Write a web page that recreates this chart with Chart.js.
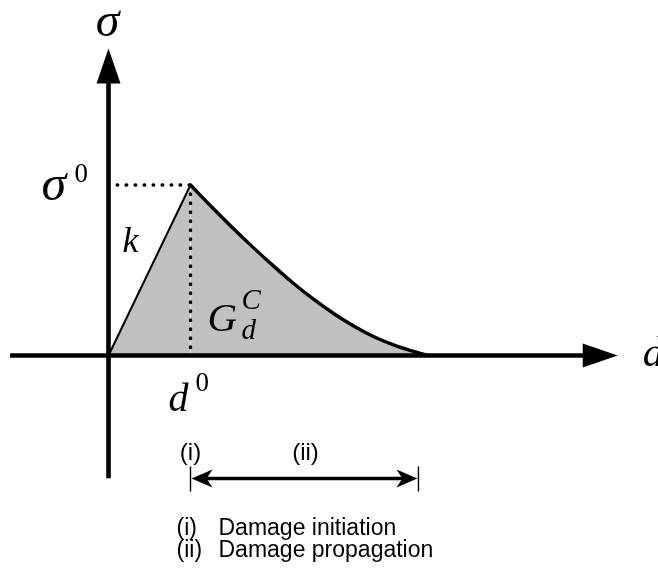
<!DOCTYPE html>
<html>
<head>
<meta charset="utf-8">
<style>
  html, body { margin: 0; padding: 0; background: #ffffff; overflow: hidden; }
  #wrap { width: 658px; height: 569px; position: relative; }
</style>
<script src="https://cdn.jsdelivr.net/npm/chart.js@4.4.1/dist/chart.umd.min.js"></script>
</head>
<body>
<div id="wrap"><canvas id="c" width="658" height="569"></canvas></div>
<script>
// Traction–separation law of a cohesive interface:
// linear elastic loading up to the peak (d0, sigma0), then softening to full separation.
const loadingD   = [0, 1];
const loadingS   = [0, 1];
const softeningD = [1.0, 1.25, 1.5, 1.75, 2.0, 2.25, 2.5, 2.75, 3.0, 3.25, 3.5, 3.75, 3.9];
const softeningS = [1.0, 0.875, 0.755, 0.64, 0.53, 0.425, 0.33, 0.245, 0.17, 0.107, 0.058, 0.02, 0];
const peakD = 1;
const peakS = 1;
const guideStartD = 0.105;                 // horizontal guide from the sigma axis to the peak
const stageSpan   = [1, 3.78];             // damage initiation -> end of propagation
const stageMarks  = ['(i)', '(ii)'];
const legendKeys  = ['(i)', '(ii)'];
const legendTexts = ['Damage initiation', 'Damage propagation'];
// Drawn extent of the two axes (data units)
const dAxisRange     = [-1.2, 6.21];
const sigmaAxisRange = [-0.72, 1.80];

const toXY = (xs, ys) => xs.map((x, i) => ({ x: x, y: ys[i] }));

const FILL  = '#c0c0c0';
const INK   = '#000000';
const SERIF = '"Liberation Serif", "Times New Roman", serif';
const SANS  = '"Liberation Sans", Arial, sans-serif';

function txt(ctx, s, x, y, font, align) {
  ctx.font = font;
  ctx.textAlign = align || 'left';
  ctx.textBaseline = 'alphabetic';
  ctx.fillStyle = INK;
  ctx.fillText(s, x, y);
}

function solidHead(ctx, tipX, tipY, dirX, dirY, len, half) {
  const nx = -dirY, ny = dirX;
  const bx = tipX - dirX * len, by = tipY - dirY * len;
  ctx.beginPath();
  ctx.moveTo(tipX, tipY);
  ctx.lineTo(bx + nx * half, by + ny * half);
  ctx.lineTo(bx - nx * half, by - ny * half);
  ctx.closePath();
  ctx.fill();
}

function barbHead(ctx, tipX, tipY, dirX, len, half, notch) {
  const bx = tipX - dirX * len;
  ctx.beginPath();
  ctx.moveTo(tipX, tipY);
  ctx.lineTo(bx, tipY - half);
  ctx.lineTo(tipX - dirX * (len - notch), tipY);
  ctx.lineTo(bx, tipY + half);
  ctx.closePath();
  ctx.fill();
}

const diagramPlugin = {
  id: 'diagram',
  afterDatasetsDraw(chart) {
    const ctx = chart.ctx;
    const xs = chart.scales.x, ys = chart.scales.y;
    const X0 = xs.getPixelForValue(0), Y0 = ys.getPixelForValue(0);
    const PX = xs.getPixelForValue(peakD), PY = ys.getPixelForValue(peakS);

    ctx.save();
    ctx.fillStyle = INK;
    ctx.strokeStyle = INK;

    // d axis
    const dL = xs.getPixelForValue(dAxisRange[0]);
    const dR = xs.getPixelForValue(dAxisRange[1]);
    ctx.lineWidth = 4.6;
    ctx.beginPath();
    ctx.moveTo(dL, Y0);
    ctx.lineTo(dR - 20, Y0);
    ctx.stroke();
    solidHead(ctx, dR, Y0, 1, 0, 35, 12);

    // sigma axis
    const sB = ys.getPixelForValue(sigmaAxisRange[0]);
    const sT = ys.getPixelForValue(sigmaAxisRange[1]);
    ctx.lineWidth = 4.6;
    ctx.beginPath();
    ctx.moveTo(X0, sB);
    ctx.lineTo(X0, sT + 20);
    ctx.stroke();
    solidHead(ctx, X0, sT, 0, -1, 35, 12);

    // axis titles
    txt(ctx, 'σ', X0 - 1, sT - 13, 'italic 48px ' + SERIF, 'center');
    txt(ctx, 'd', dR + 25, Y0 + 10, 'italic 42px ' + SERIF, 'left');

    // peak annotations
    txt(ctx, 'σ', X0 - 67, PY + 15, 'italic 50px ' + SERIF, 'left');
    txt(ctx, '0', X0 - 34, PY - 3, '27px ' + SERIF, 'left');
    txt(ctx, 'd', PX - 22, Y0 + 55, 'italic 40px ' + SERIF, 'left');
    txt(ctx, '0', PX + 5, Y0 + 35, '27px ' + SERIF, 'left');
    txt(ctx, 'k', X0 + 14, PY + 67, 'italic 36px ' + SERIF, 'left');

    // fracture energy
    txt(ctx, 'G', PX + 17, Y0 - 25, 'italic 41px ' + SERIF, 'left');
    txt(ctx, 'C', PX + 51, Y0 - 47, 'italic 29px ' + SERIF, 'left');
    txt(ctx, 'd', PX + 51, Y0 - 17, 'italic 29px ' + SERIF, 'left');

    // stage span arrow
    const aL = xs.getPixelForValue(stageSpan[0]);
    const aR = xs.getPixelForValue(stageSpan[1]);
    const aY = Y0 + 123;
    ctx.lineWidth = 1.4;
    ctx.beginPath();
    ctx.moveTo(aL, aY - 12); ctx.lineTo(aL, aY + 13);
    ctx.moveTo(aR, aY - 12); ctx.lineTo(aR, aY + 13);
    ctx.stroke();
    ctx.lineWidth = 3.6;
    ctx.beginPath();
    ctx.moveTo(aL + 8, aY);
    ctx.lineTo(aR - 8, aY);
    ctx.stroke();
    barbHead(ctx, aL + 1, aY, -1, 21, 9, 6);
    barbHead(ctx, aR - 1, aY, 1, 21, 9, 6);

    txt(ctx, stageMarks[0], aL, aY - 19, '24px ' + SANS, 'center');
    txt(ctx, stageMarks[1], (aL + aR) / 2 + 1, aY - 19, '24px ' + SANS, 'center');

    // key
    for (let i = 0; i < legendKeys.length; i++) {
      const by = aY + 56 + i * 22;
      txt(ctx, legendKeys[i], aL - 14, by, '23px ' + SANS, 'left');
      txt(ctx, legendTexts[i], aL + 28, by, '23px ' + SANS, 'left');
    }
    ctx.restore();
  }
};

const W = 658, H = 569;
const X_ORIGIN_PX = 108.5, X_UNIT_PX = 82;
const Y_ORIGIN_PX = 355.5, Y_UNIT_PX = 170.5;
const xMin = -X_ORIGIN_PX / X_UNIT_PX, xMax = xMin + W / X_UNIT_PX;
const yMax = Y_ORIGIN_PX / Y_UNIT_PX,  yMin = yMax - H / Y_UNIT_PX;

const dotted = {
  showLine: true,
  borderColor: INK,
  borderWidth: 3.4,
  borderDash: [0.6, 8.4],
  borderCapStyle: 'round',
  fill: false,
  pointRadius: 0,
  order: 0
};

new Chart(document.getElementById('c'), {
  type: 'scatter',
  data: {
    datasets: [
      {
        label: 'softening',
        data: toXY(softeningD, softeningS),
        showLine: true,
        cubicInterpolationMode: 'monotone',
        borderColor: INK,
        borderWidth: 3.4,
        backgroundColor: FILL,
        fill: 'origin',
        pointRadius: 0,
        order: 1
      },
      {
        label: 'loading',
        data: toXY(loadingD, loadingS),
        showLine: true,
        borderColor: INK,
        borderWidth: 2,
        backgroundColor: FILL,
        fill: 'origin',
        pointRadius: 0,
        order: 2
      },
      Object.assign({ label: 'peak guide (horizontal)',
        data: [{ x: guideStartD, y: peakS }, { x: peakD, y: peakS }] }, dotted),
      Object.assign({ label: 'peak guide (vertical)',
        data: [{ x: peakD, y: peakS }, { x: peakD, y: 0 }] }, dotted)
    ]
  },
  options: {
    responsive: false,
    devicePixelRatio: 1,
    animation: false,
    layout: { padding: 0, autoPadding: false },
    plugins: { legend: { display: false }, tooltip: { enabled: false }, title: { display: false } },
    scales: {
      x: { type: 'linear', min: xMin, max: xMax, display: false },
      y: { type: 'linear', min: yMin, max: yMax, display: false }
    }
  },
  plugins: [diagramPlugin]
});
</script>
</body>
</html>
